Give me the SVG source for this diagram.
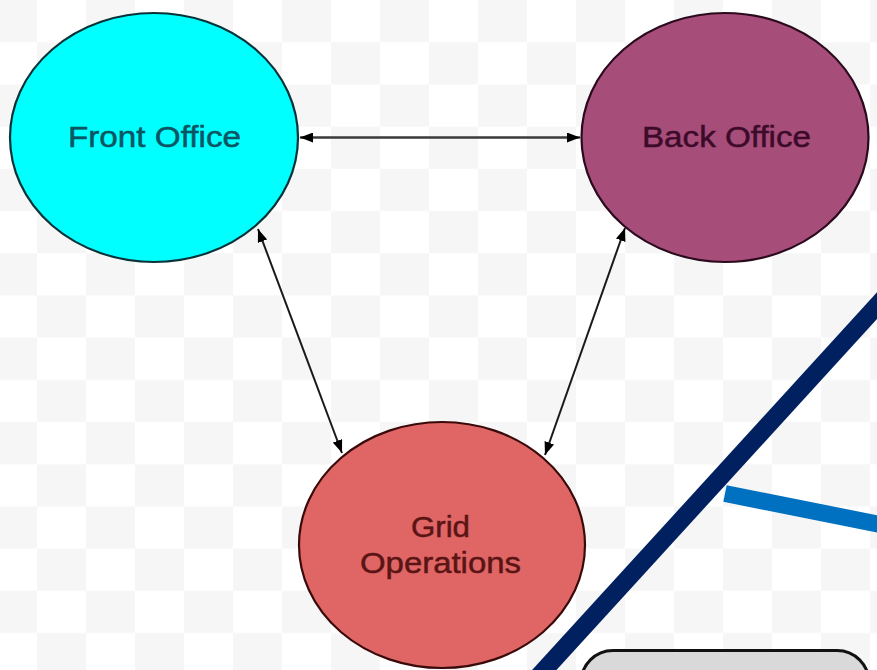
<svg xmlns="http://www.w3.org/2000/svg" width="877" height="670" viewBox="0 0 877 670">
  <defs>
    <pattern id="checker" patternUnits="userSpaceOnUse" x="-12" y="0" width="98" height="84.4">
      <rect x="0" y="0" width="98" height="84.4" fill="#ffffff"/>
      <rect x="0" y="0" width="49" height="42.2" fill="#f6f6f6"/>
      <rect x="49" y="42.2" width="49" height="42.2" fill="#f6f6f6"/>
    </pattern>
    <marker id="arrow" viewBox="0 0 13 10" refX="13" refY="5" markerWidth="13" markerHeight="10" markerUnits="userSpaceOnUse" orient="auto-start-reverse">
      <path d="M0,0 L13,5 L0,10 z" fill="#000000"/>
    </marker>
  </defs>
  <style>
    .lbl { font-family: "Liberation Sans", Arial, sans-serif; font-size: 30px; text-anchor: middle; stroke-width: 0.5; }
    .conn { stroke: #1a1a1a; stroke-width: 2; fill: none; marker-start: url(#arrow); marker-end: url(#arrow); }
    .node { stroke-width: 2.2; }
  </style>
  <rect x="0" y="0" width="877" height="670" fill="url(#checker)"/>

  <g id="connectors">
    <line class="conn" x1="300" y1="137.5" x2="580" y2="137.5" style="stroke:#3a3a3a;stroke-width:2.6"/>
    <line class="conn" x1="258" y1="229" x2="342" y2="453"/>
    <line class="conn" x1="625" y1="228" x2="545" y2="455"/>
  </g>

  <g id="front-office">
    <ellipse class="node" cx="154" cy="137.5" rx="144" ry="124.5" fill="#00ffff" stroke="#0a3338"/>
    <text class="lbl" x="154.5" y="147" fill="#0b5563" stroke="#0b5563" textLength="173" lengthAdjust="spacingAndGlyphs">Front Office</text>
  </g>

  <g id="back-office">
    <ellipse class="node" cx="725" cy="137.5" rx="143.5" ry="124.5" fill="#a64d79" stroke="#2a0a1c"/>
    <text class="lbl" x="726.5" y="147" fill="#3d0b2a" stroke="#3d0b2a" textLength="169" lengthAdjust="spacingAndGlyphs">Back Office</text>
  </g>

  <g id="grid-operations">
    <ellipse class="node" cx="442" cy="545" rx="143" ry="123" fill="#e06666" stroke="#3a0a0a"/>
    <text class="lbl" x="440.5" y="537" fill="#5a1414" stroke="#5a1414" textLength="59" lengthAdjust="spacingAndGlyphs">Grid</text>
    <text class="lbl" x="440.5" y="573" fill="#5a1414" stroke="#5a1414" textLength="161" lengthAdjust="spacingAndGlyphs">Operations</text>
  </g>

  <g id="overlay">
    <line x1="526" y1="690" x2="895" y2="286" stroke="#002060" stroke-width="18"/>
    <line x1="725" y1="493.5" x2="895" y2="527.5" stroke="#0070c0" stroke-width="17"/>
    <rect x="581" y="650.5" width="288" height="80" rx="32" ry="32" fill="#d9d9d9" stroke="#111111" stroke-width="3"/>
  </g>
</svg>
